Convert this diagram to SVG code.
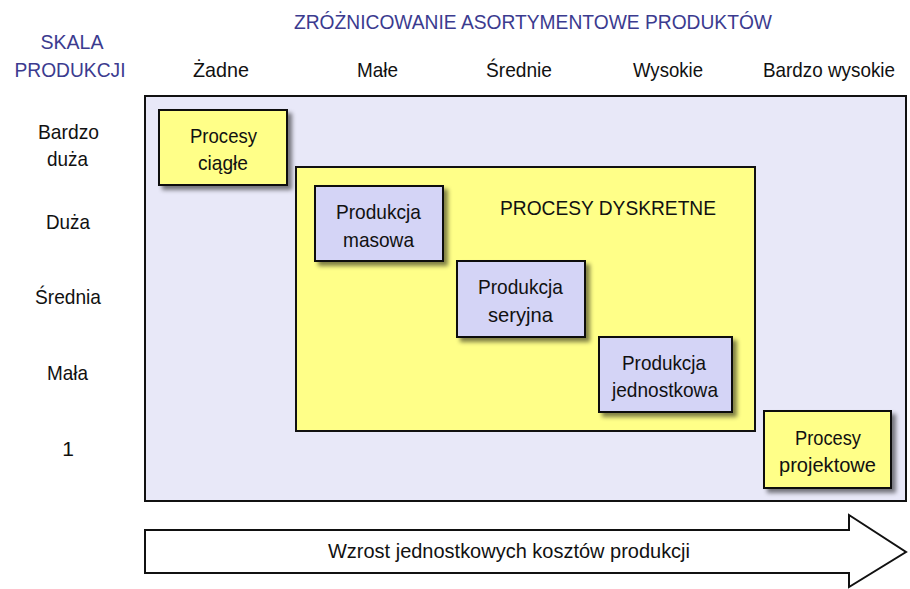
<svg xmlns="http://www.w3.org/2000/svg" width="910" height="589" viewBox="0 0 910 589">
<defs>
<filter id="sh" x="-10%" y="-10%" width="130%" height="130%">
<feGaussianBlur in="SourceAlpha" stdDeviation="2"/>
<feOffset dx="4" dy="4" result="b"/>
<feFlood flood-color="#000" flood-opacity="0.5"/>
<feComposite in2="b" operator="in"/>
<feMerge><feMergeNode/><feMergeNode in="SourceGraphic"/></feMerge>
</filter>
<style>
text{font-family:"Liberation Sans",Arial,sans-serif;font-size:21px;fill:#111;text-anchor:middle}
.blue{fill:#3b3b8f}
.y{fill:#ffff88;stroke:#111;stroke-width:2}
.v{fill:#d4d4f6;stroke:#111;stroke-width:2}
</style>
</defs>
<rect width="910" height="589" fill="#fff"/>
<g id="title">
<text class="blue" x="533" y="29" textLength="478" lengthAdjust="spacingAndGlyphs">ZRÓŻNICOWANIE ASORTYMENTOWE PRODUKTÓW</text>
<text class="blue" x="72" y="49" textLength="63" lengthAdjust="spacingAndGlyphs">SKALA</text>
<text class="blue" x="70" y="77" textLength="111" lengthAdjust="spacingAndGlyphs">PRODUKCJI</text>
</g>
<g id="columns">
<text x="221" y="77" textLength="56" lengthAdjust="spacingAndGlyphs">Żadne</text>
<text x="377.5" y="77" textLength="41" lengthAdjust="spacingAndGlyphs">Małe</text>
<text x="519" y="77" textLength="66" lengthAdjust="spacingAndGlyphs">Średnie</text>
<text x="668" y="77" textLength="70" lengthAdjust="spacingAndGlyphs">Wysokie</text>
<text x="829" y="77" textLength="132" lengthAdjust="spacingAndGlyphs">Bardzo wysokie</text>
</g>
<g id="rows">
<text x="68.5" y="139" textLength="61" lengthAdjust="spacingAndGlyphs">Bardzo</text>
<text x="67.5" y="166" textLength="41" lengthAdjust="spacingAndGlyphs">duża</text>
<text x="68" y="229" textLength="44" lengthAdjust="spacingAndGlyphs">Duża</text>
<text x="68" y="304" textLength="66" lengthAdjust="spacingAndGlyphs">Średnia</text>
<text x="67.5" y="380" textLength="41" lengthAdjust="spacingAndGlyphs">Mała</text>
<text x="68" y="456">1</text>
</g>
<g id="area">
<rect x="145" y="96" width="761" height="405" fill="#e8e8f8" stroke="#111" stroke-width="2"/>
</g>
<g id="ciagle">
<rect class="y" x="159" y="110" width="128" height="75" filter="url(#sh)"/>
<text x="223.5" y="143" textLength="67" lengthAdjust="spacingAndGlyphs">Procesy</text>
<text x="223" y="170" textLength="50" lengthAdjust="spacingAndGlyphs">ciągłe</text>
</g>
<g id="dyskretne">
<rect class="y" x="296" y="167" width="459" height="264"/>
<text x="608" y="215" textLength="216" lengthAdjust="spacingAndGlyphs">PROCESY DYSKRETNE</text>
</g>
<g id="masowa">
<rect class="v" x="315" y="186" width="128" height="75" filter="url(#sh)"/>
<text x="378.5" y="219" textLength="85" lengthAdjust="spacingAndGlyphs">Produkcja</text>
<text x="378.5" y="247" textLength="71" lengthAdjust="spacingAndGlyphs">masowa</text>
</g>
<g id="seryjna">
<rect class="v" x="457" y="261" width="128" height="76" filter="url(#sh)"/>
<text x="520.5" y="294" textLength="85" lengthAdjust="spacingAndGlyphs">Produkcja</text>
<text x="520.5" y="322" textLength="65" lengthAdjust="spacingAndGlyphs">seryjna</text>
</g>
<g id="jednostkowa">
<rect class="v" x="599" y="337" width="133" height="75" filter="url(#sh)"/>
<text x="664" y="370" textLength="84" lengthAdjust="spacingAndGlyphs">Produkcja</text>
<text x="665" y="397" textLength="106" lengthAdjust="spacingAndGlyphs">jednostkowa</text>
</g>
<g id="projektowe">
<rect class="y" x="764" y="411" width="127" height="77" filter="url(#sh)"/>
<text x="828" y="445" textLength="66" lengthAdjust="spacingAndGlyphs">Procesy</text>
<text x="827.5" y="472" textLength="97" lengthAdjust="spacingAndGlyphs">projektowe</text>
</g>
<g id="connectors">
<polygon points="145,530 849,530 849,515 906,552 849,587 849,573 145,573" fill="#fff" stroke="#111" stroke-width="2"/>
<text x="509" y="558" textLength="362" lengthAdjust="spacingAndGlyphs">Wzrost jednostkowych kosztów produkcji</text>
</g>
</svg>
